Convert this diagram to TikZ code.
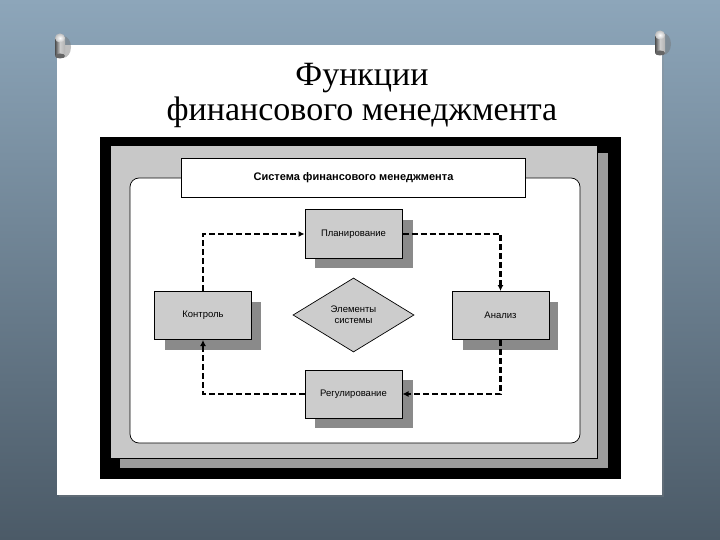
\documentclass[tikz,border=0pt]{standalone}
\usepackage{fontspec}
\setmainfont{Liberation Serif}
\newfontfamily\diagfont{Liberation Sans}
\usetikzlibrary{shapes.geometric,arrows.meta}
\definecolor{bgtop}{HTML}{8DA6BA}
\definecolor{bgbot}{HTML}{4B5A67}
\definecolor{panel}{HTML}{C8C8C8}
\definecolor{panelshadow}{HTML}{9C9C9C}
\definecolor{boxfill}{HTML}{CCCCCC}
\definecolor{boxshadow}{HTML}{8A8A8A}
\tikzset{
  fbox/.style={draw=black, line width=1pt, fill=boxfill, minimum width=97pt, minimum height=48pt, inner sep=0pt, font=\diagfont\fontsize{9.5}{11}\selectfont},
  flow/.style={line width=2.4pt, dash pattern=on 6pt off 3pt, -{Latex[length=6pt,width=6pt]}}
}
\begin{document}
\begin{tikzpicture}[x=1pt,y=-1pt]
\useasboundingbox (0,0) rectangle (720,540);
% background
\shade[top color=bgtop, bottom color=bgbot] (0,0) rectangle (720,540);
% paper
\fill[black!45, opacity=0.25] (59,47) rectangle (664,497);
\fill[white] (57,45) rectangle (662,495);
% pins
\foreach \px/\py in {60/33, 660/30}{
  \fill[black!55, opacity=0.45] (\px+3,\py+14) ellipse (8pt and 11pt);
  \shade[left color=black!70, right color=black!30, middle color=white!80!black] (\px-5,\py+5) rectangle (\px+5,\py+23);
  \fill[black!60] (\px,\py+23) ellipse (5pt and 2.5pt);
  \shade[inner color=white, outer color=black!25] (\px,\py+5) ellipse (5pt and 4.5pt);
}
% title
\node[font=\fontsize{34}{35}\selectfont, align=center] (title) at (362,95) {Функции\\финансового менеджмента};
% embedded figure
\fill[black] (100,137) rectangle (621,479);
\fill[panelshadow] (120,153) rectangle (608,468);
\filldraw[fill=panel, draw=black, line width=0.5pt] (110,145) rectangle (597,458);
\filldraw[fill=white, draw=black, line width=0.7pt, rounded corners=9pt] (130,178) rectangle (580,443);
\node[draw=black, fill=white, line width=0.7pt, minimum width=344pt, minimum height=39pt, inner sep=0pt, font=\diagfont\bfseries\fontsize{11}{13}\selectfont] (sys) at (353.5,177.5) {Система финансового менеджмента};
% shadows
\fill[boxshadow] (315,220) rectangle (413,268);
\fill[boxshadow] (165,302) rectangle (261,350);
\fill[boxshadow] (463,302) rectangle (558,350);
\fill[boxshadow] (315,380) rectangle (413,428);
% boxes
\node[fbox] (plan) at (353.5,234) {Планирование};
\node[fbox] (ctrl) at (203,315.5) {Контроль};
\node[fbox] (anal) at (500.5,315.5) {Анализ};
\node[fbox] (reg) at (353.5,394) {Регулирование};
\node[diamond, draw=black, line width=0.7pt, fill=boxfill, minimum width=121pt, minimum height=74pt, inner sep=0pt, align=center, font=\diagfont\fontsize{9.5}{11}\selectfont] (elem) at (353.5,315) {Элементы\\системы};
% connectors
\draw[flow] (ctrl.north) |- (plan.west);
\draw[flow] (plan.east) -| (anal.north);
\draw[flow] (anal.south) |- (reg.east);
\draw[flow] (reg.west) -| (ctrl.south);
\end{tikzpicture}
\end{document}
